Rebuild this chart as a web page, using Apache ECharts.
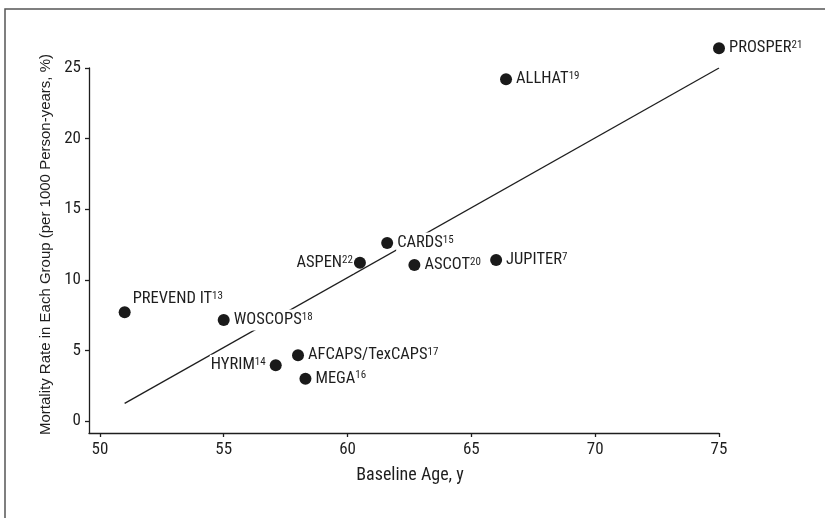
<!DOCTYPE html>
<html>
<head>
<meta charset="utf-8">
<script src="https://cdn.jsdelivr.net/npm/echarts@6/dist/echarts.min.js"></script>
<style>
html,body{margin:0;padding:0;background:#fff;}
#chart{width:825px;height:518px;}
</style>
</head>
<body>
<div id="chart"></div>
<script>
// ---- data ----
const studies = ['PREVEND IT', 'WOSCOPS', 'HYRIM', 'AFCAPS/TexCAPS', 'MEGA', 'ASPEN', 'CARDS', 'ASCOT', 'JUPITER', 'ALLHAT', 'PROSPER'];
const refs = ['13', '18', '14', '17', '16', '22', '15', '20', '7', '19', '21'];
const ages = [51.0, 55.0, 57.1, 58.0, 58.3, 60.5, 61.6, 62.7, 66.0, 66.4, 75.0];
const rates = [7.7, 7.15, 3.95, 4.65, 3.0, 11.2, 12.6, 11.05, 11.4, 24.2, 26.4];
const fitAges = [51.0, 75.0];
const fitRates = [1.25, 25.0];
const xTicks = [50, 55, 60, 65, 70, 75];
const yTicks = [0, 5, 10, 15, 20, 25];

// ---- label layout (not data) ----
const labelLayout = {
  'PREVEND IT': { position: [13, -7], align: 'left', verticalAlign: 'middle' },
  'HYRIM': { position: 'left', distance: 3 },
  'ASPEN': { position: 'left', distance: 0 }
};

const NARROW = "'Roboto Condensed', 'DejaVu Sans Condensed', sans-serif";
const REGULAR = "'Liberation Sans', Arial, sans-serif";
const INK = '#1e1e1e';

const scatterData = studies.map((s, i) => {
  const lay = labelLayout[s] || { position: 'right', distance: 3 };
  return {
    name: s,
    value: [ages[i], rates[i]],
    label: Object.assign({}, lay)
  };
});

const chart = echarts.init(document.getElementById('chart'), null, { renderer: 'canvas' });
chart.setOption({
  animation: false,
  backgroundColor: '#fff',
  graphic: [{
    type: 'rect',
    shape: { x: 5, y: 9, width: 900, height: 600 },
    style: { fill: 'none', stroke: '#555', lineWidth: 1.5 },
    silent: true
  }],
  grid: { left: 89, right: 106, top: 68, bottom: 85, containLabel: false },
  xAxis: {
    type: 'value',
    min: 49.56,
    max: 75,
    name: 'Baseline Age, y',
    nameLocation: 'middle',
    nameGap: 33,
    nameTextStyle: { fontFamily: NARROW, fontSize: 18, color: INK, padding: [0, 0, 0, 12] },
    splitLine: { show: false },
    axisLine: { onZero: false, lineStyle: { color: INK, width: 1.3 } },
    axisTick: { show: true, length: 4, customValues: xTicks, lineStyle: { color: INK, width: 1.3 } },
    axisLabel: { customValues: xTicks, margin: 8, fontFamily: NARROW, fontSize: 17, color: INK }
  },
  yAxis: {
    type: 'value',
    min: -0.85,
    max: 25,
    name: 'Mortality Rate in Each Group (per 1000 Person-years, %)',
    nameLocation: 'middle',
    nameGap: 35,
    nameTextStyle: { fontFamily: REGULAR, fontSize: 15, color: INK, padding: [0, 0, 0, 12] },
    splitLine: { show: false },
    axisLine: { onZero: false, lineStyle: { color: INK, width: 1.3 } },
    axisTick: { show: true, length: 4, customValues: yTicks, lineStyle: { color: INK, width: 1.3 } },
    axisLabel: { customValues: yTicks, margin: 8, fontFamily: NARROW, fontSize: 17, color: INK }
  },
  series: [
    {
      type: 'line',
      z: 1,
      data: fitAges.map((a, i) => [a, fitRates[i]]),
      symbol: 'none',
      lineStyle: { color: INK, width: 1.3 },
      silent: true
    },
    {
      type: 'scatter',
      z: 3,
      clip: false,
      symbol: 'circle',
      symbolSize: 12,
      itemStyle: { color: '#1a1a1a', opacity: 1 },
      data: scatterData,
      label: {
        show: true,
        backgroundColor: '#fff',
        padding: [2, 1, 2, 1],
        formatter: p => '{n|' + p.name + '}{s|' + refs[p.dataIndex] + '}',
        rich: {
          n: { fontFamily: NARROW, fontSize: 16.5, color: INK, lineHeight: 17 },
          s: { fontFamily: NARROW, fontSize: 11, color: INK, lineHeight: 12, verticalAlign: 'top' }
        }
      }
    }
  ]
});
</script>
</body>
</html>
